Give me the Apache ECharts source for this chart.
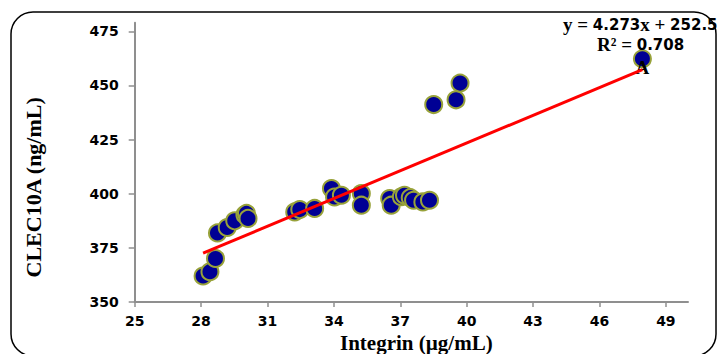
<!DOCTYPE html>
<html>
<head>
<meta charset="utf-8">
<script src="https://cdn.jsdelivr.net/npm/echarts@6/dist/echarts.min.js"></script>
<style>
  html, body { margin: 0; padding: 0; background: #fff; }
  #chart { width: 718px; height: 354px; }
</style>
</head>
<body>
<div id="chart"></div>
<script>
// Integrin vs CLEC10A measurements
const integrin = [28.09, 28.40, 28.65, 28.74, 29.18, 29.52, 29.98, 30.05, 30.12,
                  32.23, 32.46, 33.13, 33.89, 34.03, 34.34, 35.24, 35.24,
                  36.52, 36.59, 37.05, 37.19, 37.45, 37.60, 38.02, 38.32,
                  38.51, 39.52, 39.70, 47.94];
const clec10a = [362.0, 364.0, 370.1, 381.9, 384.4, 387.5, 390.3, 390.9, 388.6,
                 391.6, 392.7, 393.2, 402.4, 398.5, 399.3, 400.1, 394.7,
                 397.8, 394.7, 398.6, 399.3, 398.2, 397.0, 396.2, 397.0,
                 441.2, 443.4, 451.1, 462.3];
const pointLabels = ['', '', '', '', '', '', '', '', '',
                     '', '', '', '', '', '', '', '',
                     '', '', '', '', '', '', '', '',
                     '', '', '', 'A'];

// Linear fit reported for the data
const slope = 4.273;
const intercept = 252.5;
const rSquared = 0.708;

const xTicks = [25, 28, 31, 34, 37, 40, 43, 46, 49];
const yTicks = [350, 375, 400, 425, 450, 475];

const serif = '"Liberation Serif", "Times New Roman", serif';
const sans = '"DejaVu Sans", Verdana, sans-serif';
const axisGray = '#8f8f8f';

const scatterData = integrin.map((x, i) => ({
  value: [x, clec10a[i]],
  label: pointLabels[i] ? {
    show: true, formatter: pointLabels[i], position: 'inside', offset: [0, 9],
    fontFamily: serif, fontWeight: 'bold', fontSize: 19, color: '#000'
  } : { show: false }
}));

const xMin = Math.min(...integrin), xMax = Math.max(...integrin);
const fitLine = [[xMin, slope * xMin + intercept], [xMax, slope * xMax + intercept]];

const chart = echarts.init(document.getElementById('chart'), null, { renderer: 'svg' });
chart.setOption({
  animation: false,
  backgroundColor: '#fff',
  grid: { left: 134.7, right: 30, top: 22.7, bottom: 52, containLabel: false, outerBoundsMode: 'none' },
  xAxis: {
    type: 'value', min: 25, max: 50,
    splitLine: { show: false },
    axisLine: { lineStyle: { color: axisGray, width: 2 } },
    axisTick: { customValues: xTicks, length: 5, lineStyle: { color: axisGray, width: 1.5 } },
    axisLabel: { customValues: xTicks, margin: 12, color: '#000', fontFamily: sans, fontWeight: 'bold', fontSize: 14 },
    name: 'Integrin (µg/mL)', nameLocation: 'middle', nameGap: 27,
    nameTextStyle: { fontFamily: serif, fontWeight: 'bold', fontSize: 21, lineHeight: 21, color: '#000', padding: [0, 0, 0, 10] }
  },
  yAxis: {
    type: 'value', min: 350, max: 479,
    splitLine: { show: false },
    axisLine: { show: true, lineStyle: { color: axisGray, width: 2 } },
    axisTick: { show: true, customValues: yTicks, length: 6, lineStyle: { color: axisGray, width: 1.5 } },
    axisLabel: { customValues: yTicks, margin: 16, color: '#000', fontFamily: sans, fontWeight: 'bold', fontSize: 14 },
    name: 'CLEC10A (ng/mL)', nameLocation: 'middle', nameGap: 90, nameRotate: 90,
    nameTextStyle: { fontFamily: serif, fontWeight: 'bold', fontSize: 22, color: '#000', padding: [0, 50, 0, 0] }
  },
  series: [
    {
      type: 'scatter',
      data: scatterData,
      symbolSize: 17,
      itemStyle: { color: '#000094', borderColor: '#98a23a', borderWidth: 2, opacity: 1 },
      z: 3
    },
    {
      type: 'line',
      data: fitLine,
      showSymbol: false,
      lineStyle: { color: '#ff0000', width: 3 },
      z: 4
    }
  ],
  graphic: [
    {
      type: 'rect', silent: true, z: -1,
      shape: { x: 11, y: 12, width: 705, height: 344, r: 22 },
      style: { fill: 'none', stroke: '#000', lineWidth: 1.5 }
    },
    {
      type: 'text', left: 563, top: 15, z: 10,
      style: {
        text: '{t|y = }{n|' + slope.toFixed(3) + '}{t|x + }{n|' + intercept.toFixed(1) + '}',
        rich: {
          t: { fontFamily: serif, fontWeight: 'bold', fontSize: 19, fill: '#000' },
          n: { fontFamily: sans, fontWeight: 'bold', fontSize: 15, fill: '#000' }
        }
      }
    },
    {
      type: 'text', left: 597, top: 35, z: 10,
      style: {
        text: '{t|R² = }{n|' + rSquared.toFixed(3) + '}',
        rich: {
          t: { fontFamily: serif, fontWeight: 'bold', fontSize: 19, fill: '#000' },
          n: { fontFamily: sans, fontWeight: 'bold', fontSize: 15, fill: '#000' }
        }
      }
    }
  ]
});
</script>
</body>
</html>
